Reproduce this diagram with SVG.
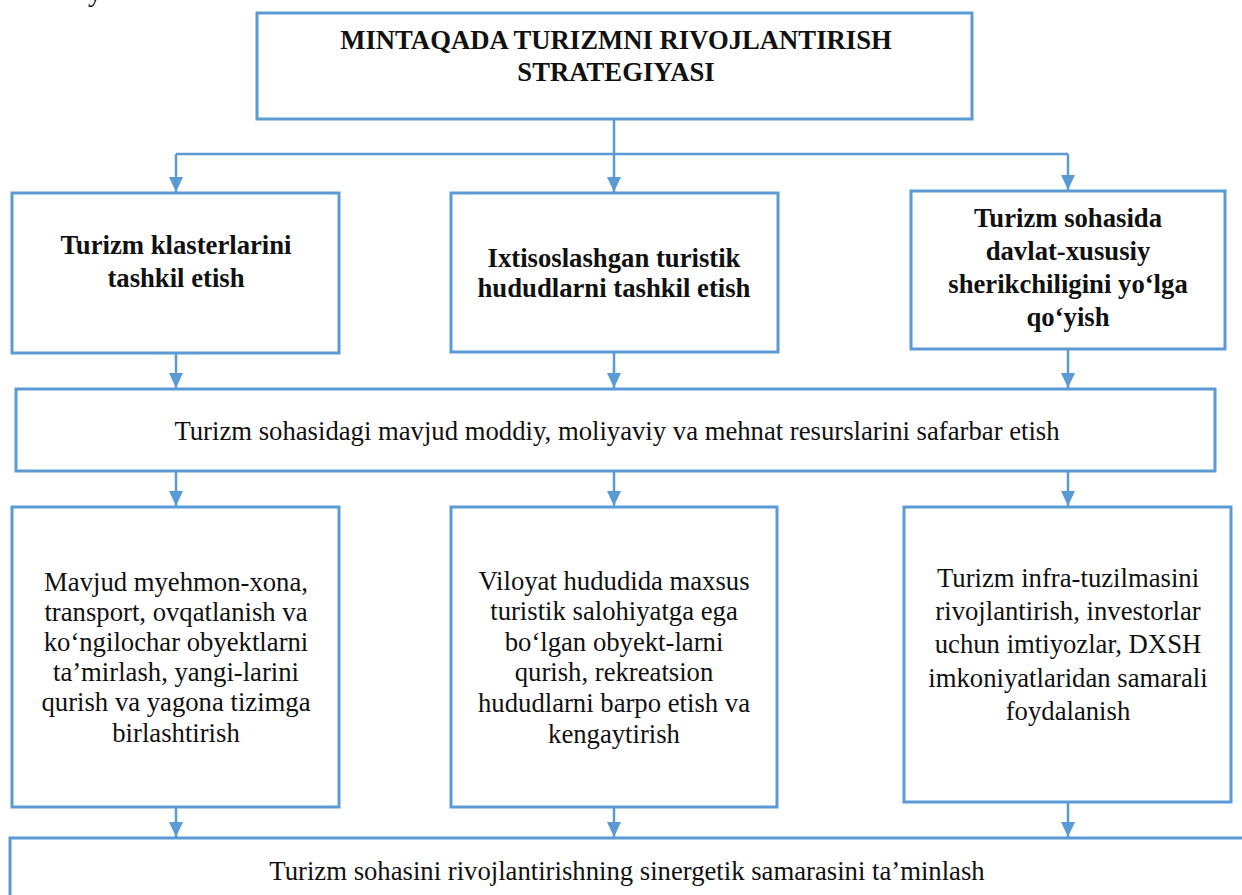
<svg xmlns="http://www.w3.org/2000/svg" width="1242" height="895" viewBox="0 0 1242 895">
<style>
.box{fill:#ffffff;stroke:#5B9BD5;stroke-width:3}
.con{fill:none;stroke:#5B9BD5;stroke-width:2.5}
text{font-family:'Liberation Serif','Times New Roman',serif;font-size:26.7px;fill:#111;text-anchor:middle}
.b{font-weight:bold}
</style>
<defs>
<marker id="ah" markerUnits="userSpaceOnUse" markerWidth="16" markerHeight="16" viewBox="0 0 16 16" refX="15" refY="8" orient="auto">
<path d="M0,1 L15,8 L0,15 Z" fill="#5B9BD5"/>
</marker>
</defs>
<rect width="1242" height="895" fill="#ffffff"/>
<text x="95" y="1" style="font-size:28px">y</text>

<g id="connectors">
<path class="con" d="M614,119 V154"/>
<path class="con" d="M176,154 H1068"/>
<path class="con" d="M176,154 V192" marker-end="url(#ah)"/>
<path class="con" d="M614,154 V192" marker-end="url(#ah)"/>
<path class="con" d="M1068,154 V190" marker-end="url(#ah)"/>
<path class="con" d="M176,353 V388" marker-end="url(#ah)"/>
<path class="con" d="M614,352 V388" marker-end="url(#ah)"/>
<path class="con" d="M1068,349 V388" marker-end="url(#ah)"/>
<path class="con" d="M176,471 V506" marker-end="url(#ah)"/>
<path class="con" d="M614,471 V506" marker-end="url(#ah)"/>
<path class="con" d="M1068,471 V506" marker-end="url(#ah)"/>
<path class="con" d="M176,807 V837" marker-end="url(#ah)"/>
<path class="con" d="M614,807 V837" marker-end="url(#ah)"/>
<path class="con" d="M1068,802 V837" marker-end="url(#ah)"/>
</g>

<g id="title">
<rect class="box" x="257" y="13" width="715" height="106"/>
<text class="b" x="616" y="49">MINTAQADA TURIZMNI RIVOJLANTIRISH</text>
<text class="b" x="616" y="81">STRATEGIYASI</text>
</g>

<g id="klaster">
<rect class="box" x="12" y="193" width="327" height="160"/>
<text class="b" x="176" y="254">Turizm klasterlarini</text>
<text class="b" x="176" y="287">tashkil etish</text>
</g>

<g id="hudud">
<rect class="box" x="451" y="193" width="327" height="159"/>
<text class="b" x="614" y="267">Ixtisoslashgan turistik</text>
<text class="b" x="614" y="297">hududlarni tashkil etish</text>
</g>

<g id="dxsh">
<rect class="box" x="911" y="191" width="314" height="158"/>
<text class="b" x="1068" y="227">Turizm sohasida</text>
<text class="b" x="1068" y="260">davlat-xususiy</text>
<text class="b" x="1068" y="293">sherikchiligini yo‘lga</text>
<text class="b" x="1068" y="326">qo‘yish</text>
</g>

<g id="resurslar">
<rect class="box" x="16" y="389" width="1199" height="82"/>
<text x="617" y="440">Turizm sohasidagi mavjud moddiy, moliyaviy va mehnat resurslarini safarbar etish</text>
</g>

<g id="obyektlar">
<rect class="box" x="12" y="507" width="327" height="300"/>
<text x="176" y="591">Mavjud myehmon-xona,</text>
<text x="176" y="621">transport, ovqatlanish va</text>
<text x="176" y="651">ko‘ngilochar obyektlarni</text>
<text x="176" y="681">ta’mirlash, yangi-larini</text>
<text x="176" y="711">qurish va yagona tizimga</text>
<text x="176" y="742">birlashtirish</text>
</g>

<g id="viloyat">
<rect class="box" x="451" y="507" width="326" height="300"/>
<text x="614" y="590">Viloyat hududida maxsus</text>
<text x="614" y="620">turistik salohiyatga ega</text>
<text x="614" y="651">bo‘lgan obyekt-larni</text>
<text x="614" y="681">qurish, rekreatsion</text>
<text x="614" y="712">hududlarni barpo etish va</text>
<text x="614" y="743">kengaytirish</text>
</g>

<g id="infra">
<rect class="box" x="904" y="507" width="327" height="295"/>
<text x="1068" y="587">Turizm infra-tuzilmasini</text>
<text x="1068" y="620">rivojlantirish, investorlar</text>
<text x="1068" y="653">uchun imtiyozlar, DXSH</text>
<text x="1068" y="687">imkoniyatlaridan samarali</text>
<text x="1068" y="720">foydalanish</text>
</g>

<g id="sinergetik">
<rect class="box" x="10" y="838" width="1250" height="80"/>
<text x="627" y="880">Turizm sohasini rivojlantirishning sinergetik samarasini ta’minlash</text>
</g>
</svg>
